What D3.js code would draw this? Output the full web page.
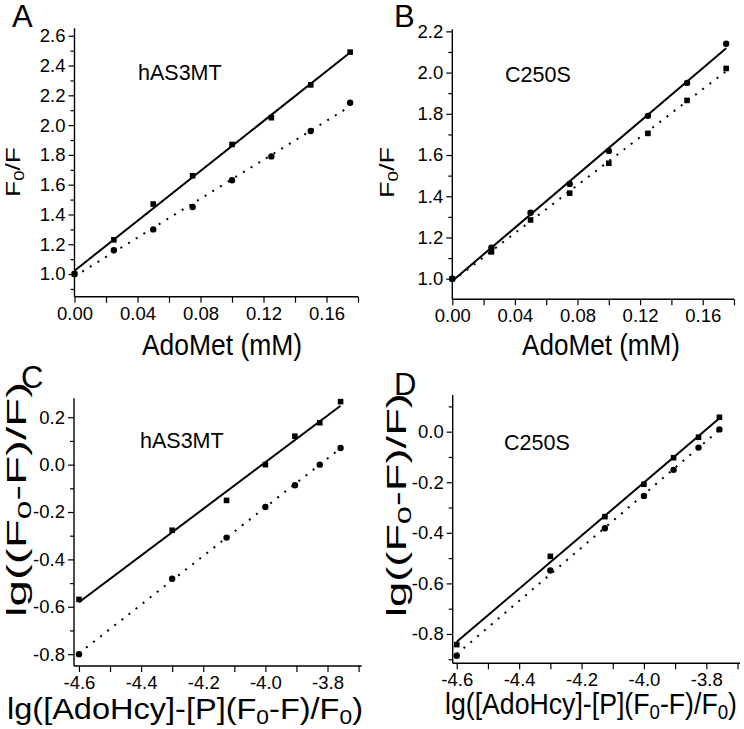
<!DOCTYPE html>
<html><head><meta charset="utf-8">
<script src="https://cdn.jsdelivr.net/npm/d3@7"></script>
<style>body{margin:0;background:#fff} text{font-family:"Liberation Sans",Arial,sans-serif;fill:#000}</style>
</head><body><svg id="c" width="744" height="729"></svg>
<script>
// ---- data ----
const doseAdoMet = [0, 0.025, 0.05, 0.075, 0.1, 0.125, 0.15, 0.175];
const aWtSquare  = [1.00, 1.23, 1.47, 1.66, 1.87, 2.05, 2.27, 2.49];
const aWtCircle  = [1.00, 1.16, 1.30, 1.45, 1.63, 1.79, 1.96, 2.15];
const bMutCircle = [1.00, 1.15, 1.32, 1.46, 1.62, 1.79, 1.95, 2.14];
const bMutSquare = [1.00, 1.13, 1.285, 1.415, 1.56, 1.705, 1.865, 2.02];
const lgConc     = [-4.60, -4.30, -4.125, -4.00, -3.905, -3.825, -3.758];
const cWtSquare  = [-0.569, -0.277, -0.151, 0.0, 0.12, 0.177, 0.266];
const cWtCircle  = [-0.80, -0.482, -0.308, -0.179, -0.087, 0.0, 0.07];
const dMutSquare = [-0.842, -0.493, -0.336, -0.208, -0.103, -0.022, 0.057];
const dMutCircle = [-0.886, -0.549, -0.382, -0.254, -0.151, -0.063, 0.009];

const doseTicks   = [0, 0.02, 0.04, 0.06, 0.08, 0.10, 0.12, 0.14, 0.16, 0.18];
const doseLabels  = [0, 0.04, 0.08, 0.12, 0.16];
const lgTicks     = [-4.6, -4.5, -4.4, -4.3, -4.2, -4.1, -4.0, -3.9, -3.8, -3.7];
const lgLabels    = [-4.6, -4.4, -4.2, -4.0, -3.8];
const aYMajor = [1.0, 1.2, 1.4, 1.6, 1.8, 2.0, 2.2, 2.4, 2.6];
const aYMinor = [0.9, 1.1, 1.3, 1.5, 1.7, 1.9, 2.1, 2.3, 2.5];
const bYMajor = [1.0, 1.2, 1.4, 1.6, 1.8, 2.0, 2.2];
const bYMinor = [1.1, 1.3, 1.5, 1.7, 1.9, 2.1];
const cYMajor = [-0.8, -0.6, -0.4, -0.2, 0.0, 0.2];
const cYMinor = [-0.7, -0.5, -0.3, -0.1, 0.1];
const dYMajor = [-0.8, -0.6, -0.4, -0.2, 0.0];
const dYMinor = [-0.9, -0.7, -0.5, -0.3, -0.1, 0.1];

const svg = d3.select("#c");

function fit(xs, ys) {
  const mx = d3.mean(xs), my = d3.mean(ys);
  const sxy = d3.sum(xs, (x, i) => (x - mx) * (ys[i] - my));
  const sxx = d3.sum(xs, x => (x - mx) * (x - mx));
  const b = sxy / sxx; return {b, a: my - b * mx};
}

const panels = [
  {letter: "A", lx: 12, ly: 27, inner: "hAS3MT", ix: 138, iy: 80,
   xr: [74.5, 358], yr: [296.7, 28.3], xd: [0, 0.18], yd: [0.848, 2.65],
   xt: doseTicks, xl: doseLabels, xf: d => d.toFixed(2), yM: aYMajor, ym: aYMinor,
   xs: doseAdoMet, solid: {y: aWtSquare, m: "sq"}, dotted: {y: aWtCircle, m: "ci"},
   xtitle: "dose", xtx: 142, xty: 355, xtl: 160, ytitle: "f", ytx: 20, yty: 197, ytl: 50},
  {letter: "B", lx: 394, ly: 27, inner: "C250S", ix: 505, iy: 82,
   xr: [452.3, 734], yr: [299.3, 29.3], xd: [0, 0.18], yd: [0.9, 2.21],
   xt: doseTicks, xl: doseLabels, xf: d => d.toFixed(2), yM: bYMajor, ym: bYMinor,
   xs: doseAdoMet, solid: {y: bMutCircle, m: "ci"}, dotted: {y: bMutSquare, m: "sq"},
   xtitle: "dose", xtx: 522, xty: 355, xtl: 158, ytitle: "f", ytx: 394, yty: 198, ytl: 51},
  {letter: "C", lx: 21, ly: 388, inner: "hAS3MT", ix: 140, iy: 448,
   xr: [74, 361.7], yr: [666, 398.3], xd: [-4.616, -3.69], yd: [-0.85, 0.28],
   xt: lgTicks, xl: lgLabels, xf: d => d.toFixed(1), yM: cYMajor, ym: cYMinor,
   xs: lgConc, solid: {y: cWtSquare, m: "sq"}, dotted: {y: cWtCircle, m: "ci"},
   xtitle: "lg", xtx: 7, xty: 719, xtl: 356, ytitle: "lg", ytx: 26, yty: 617, ytl: 235},
  {letter: "D", lx: 394, ly: 395, inner: "C250S", ix: 504, iy: 450,
   xr: [452.7, 740], yr: [663.3, 395], xd: [-4.613, -3.692], yd: [-0.916, 0.145],
   xt: lgTicks, xl: lgLabels, xf: d => d.toFixed(1), yM: dYMajor, ym: dYMinor,
   xs: lgConc, solid: {y: dMutSquare, m: "sq"}, dotted: {y: dMutCircle, m: "ci"},
   xtitle: "lg", xtx: 445, xty: 714, xtl: 292, ytitle: "lg", ytx: 406, yty: 617, ytl: 224}
];

function subText(sel, parts, size) {
  parts.forEach(p => {
    if (p.sub) {
      sel.append("tspan").attr("font-size", size * 0.7).attr("dy", size * 0.18).text(p.t);
    } else if (p.after) {
      sel.append("tspan").attr("dy", -size * 0.18).text(p.t);
    } else sel.append("tspan").text(p.t);
  });
}

panels.forEach(p => {
  const g = svg.append("g");
  const x = d3.scaleLinear().domain(p.xd).range(p.xr);
  const y = d3.scaleLinear().domain(p.yd).range(p.yr);

  const fs = 18.5;
  g.append("g").attr("transform", `translate(0,${p.yr[0]})`)
    .call(d3.axisBottom(x).tickValues(p.xt).tickSize(6).tickPadding(4)
      .tickFormat(d => p.xl.some(v => Math.abs(v - d) < 1e-9) ? p.xf(d) : ""));
  g.append("g").attr("transform", `translate(${p.xr[0]},0)`)
    .call(d3.axisLeft(y).tickValues(p.yM).tickSize(6).tickPadding(3).tickFormat(d => d.toFixed(1)));
  g.append("g").attr("transform", `translate(${p.xr[0]},0)`)
    .call(d3.axisLeft(y).tickValues(p.ym).tickSize(4).tickFormat(""));
  g.selectAll(".tick line").attr("stroke", "#000").attr("stroke-width", 1.2);
  g.selectAll(".domain").remove();
  g.append("line").attr("x1", p.xr[0]).attr("x2", p.xr[1]).attr("y1", p.yr[0]).attr("y2", p.yr[0])
    .attr("stroke", "#000").attr("stroke-width", 1.4);
  g.append("line").attr("x1", p.xr[0]).attr("x2", p.xr[0]).attr("y1", p.yr[0]).attr("y2", p.yr[1])
    .attr("stroke", "#000").attr("stroke-width", 1.4);
  g.selectAll(".tick text").attr("font-size", fs).attr("font-family", "Liberation Sans, Arial, sans-serif").attr("fill", "#000");

  [["solid", null], ["dotted", "2,7"]].forEach(([k, dash]) => {
    const f = fit(p.xs, p[k].y);
    const x0 = d3.min(p.xs), x1 = d3.max(p.xs);
    g.append("line").attr("x1", x(x0)).attr("y1", y(f.a + f.b * x0))
      .attr("x2", x(x1)).attr("y2", y(f.a + f.b * x1))
      .attr("stroke", "#000").attr("stroke-width", 2).attr("stroke-dasharray", dash);
  });
  ["solid", "dotted"].forEach(k => {
    const s = p[k];
    const pts = p.xs.map((v, i) => [v, s.y[i]]);
    if (s.m === "sq") {
      g.selectAll(null).data(pts).join("rect")
        .attr("x", d => x(d[0]) - 2.8).attr("y", d => y(d[1]) - 2.8)
        .attr("width", 5.6).attr("height", 5.6).attr("fill", "#000");
    } else {
      g.selectAll(null).data(pts).join("circle")
        .attr("cx", d => x(d[0])).attr("cy", d => y(d[1])).attr("r", 3.2).attr("fill", "#000");
    }
  });

  g.append("text").attr("x", p.lx).attr("y", p.ly).attr("font-size", 31).text(p.letter);
  g.append("text").attr("x", p.ix).attr("y", p.iy).attr("font-size", 21.5).text(p.inner);

  const xt = g.append("text").attr("x", p.xtx).attr("y", p.xty).attr("font-size", 30)
    .attr("textLength", p.xtl).attr("lengthAdjust", "spacingAndGlyphs");
  if (p.xtitle === "dose") xt.text("AdoMet (mM)");
  else subText(xt, [{t: "lg([AdoHcy]-[P](F"}, {t: "0", sub: 1}, {t: "-F)/F", after: 1}, {t: "0", sub: 1}, {t: ")", after: 1}], 30);

  const ys = p.ytitle === "f" ? 21 : 27;
  const yt = g.append("text").attr("transform", `translate(${p.ytx},${p.yty}) rotate(-90)`)
    .attr("font-size", ys).attr("textLength", p.ytl).attr("lengthAdjust", "spacingAndGlyphs");
  if (p.ytitle === "f") subText(yt, [{t: "F"}, {t: "0", sub: 1}, {t: "/F", after: 1}], ys);
  else subText(yt, [{t: "lg((F"}, {t: "0", sub: 1}, {t: "-F)/F)", after: 1}], ys);
});
</script></body></html>
